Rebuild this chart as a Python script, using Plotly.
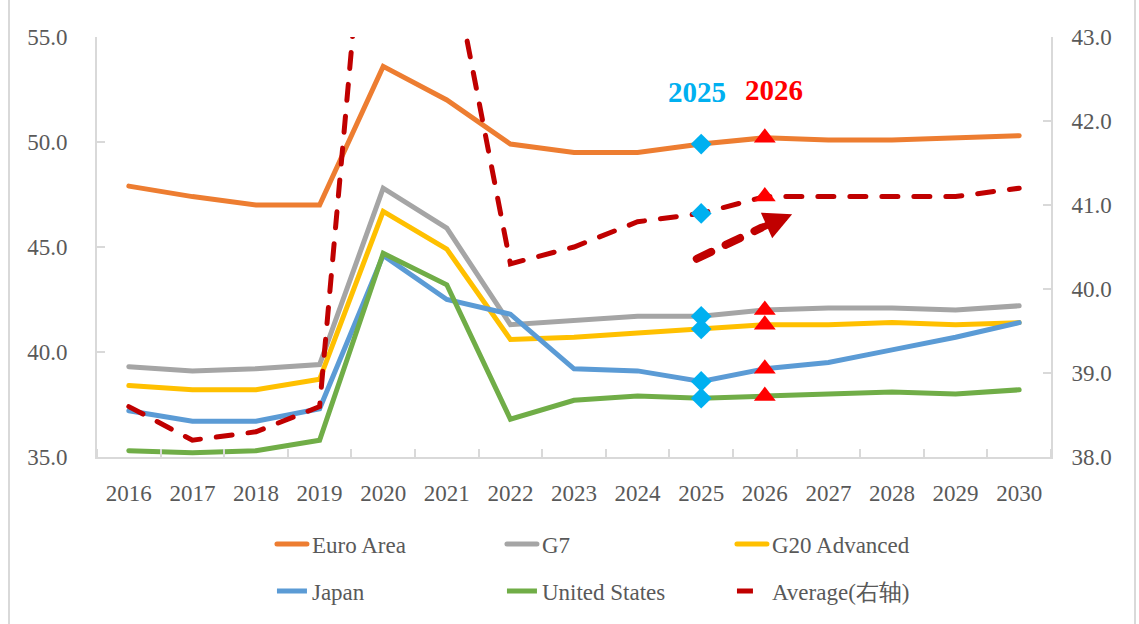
import plotly.graph_objects as go

years = list(range(2016, 2031))
euro_area = [47.9, 47.4, 47.0, 47.0, 53.6, 52.0, 49.9, 49.5, 49.5, 49.9, 50.2, 50.1, 50.1, 50.2, 50.3]
g7 = [39.3, 39.1, 39.2, 39.4, 47.8, 45.9, 41.3, 41.5, 41.7, 41.7, 42.0, 42.1, 42.1, 42.0, 42.2]
g20_adv = [38.4, 38.2, 38.2, 38.7, 46.7, 44.9, 40.6, 40.7, 40.9, 41.1, 41.3, 41.3, 41.4, 41.3, 41.4]
japan = [37.2, 36.7, 36.7, 37.3, 44.6, 42.5, 41.8, 39.2, 39.1, 38.6, 39.2, 39.5, 40.1, 40.7, 41.4]
united_states = [35.3, 35.2, 35.3, 35.8, 44.7, 43.2, 36.8, 37.7, 37.9, 37.8, 37.9, 38.0, 38.1, 38.0, 38.2]
average = [38.6, 38.2, 38.3, 38.6, 47.1, 44.2, 40.3, 40.5, 40.8, 40.9, 41.1, 41.1, 41.1, 41.1, 41.2]

left_ticks = [35, 40, 45, 50, 55]
right_ticks = [38, 39, 40, 41, 42, 43]

# arrow (x in years, y in right-axis units)
arrow_tail = (2024.93, 40.36)
arrow_mid = (2025.95, 40.73)
arrow_tip = (2026.43, 40.89)

FONT = "Liberation Serif"
TXT = "#595959"
GRID = "#D9D9D9"

series = [
    ("Euro Area", euro_area, "#ED7D31", "legend"),
    ("G7", g7, "#A5A5A5", "legend"),
    ("G20 Advanced", g20_adv, "#FFC000", "legend"),
    ("Japan", japan, "#5B9BD5", "legend2"),
    ("United States", united_states, "#70AD47", "legend2"),
]

fig = go.Figure()
for name, vals, col, lg in series:
    fig.add_trace(go.Scatter(x=years, y=vals, name=name, mode="lines",
                             line=dict(color=col, width=5), legend=lg))

i25 = years.index(2025)
i26 = years.index(2026)
prim = [s[1] for s in series]
fig.add_trace(go.Scatter(x=[2025] * len(prim), y=[v[i25] for v in prim], mode="markers",
                         marker=dict(symbol="diamond", size=16, color="#00B0F0"),
                         showlegend=False, hoverinfo="skip", cliponaxis=False))
fig.add_trace(go.Scatter(x=[2026] * len(prim), y=[v[i26] for v in prim], mode="markers",
                         marker=dict(symbol="triangle-up", size=19, color="#FF0000"),
                         showlegend=False, hoverinfo="skip", cliponaxis=False))

fig.add_trace(go.Scatter(x=years, y=average, name="Average(右轴)", mode="lines", yaxis="y2",
                         line=dict(color="#C00000", width=5, dash="16px,16px"), legend="legend2"))
fig.add_trace(go.Scatter(x=[2025], y=[average[i25]], mode="markers", yaxis="y2",
                         marker=dict(symbol="diamond", size=16, color="#00B0F0"),
                         showlegend=False, hoverinfo="skip"))
fig.add_trace(go.Scatter(x=[2026], y=[average[i26]], mode="markers", yaxis="y2",
                         marker=dict(symbol="triangle-up", size=19, color="#FF0000"),
                         showlegend=False, hoverinfo="skip"))

# dashed arrow shaft
fig.add_shape(type="line", xref="x", yref="y2",
              x0=arrow_tail[0], y0=arrow_tail[1], x1=arrow_mid[0], y1=arrow_mid[1],
              line=dict(color="#C00000", width=8, dash="16px,16px"))
# arrow head
fig.add_annotation(x=arrow_tip[0], y=arrow_tip[1], ax=arrow_mid[0], ay=arrow_mid[1],
                   xref="x", yref="y2", axref="x", ayref="y2", text="",
                   showarrow=True, arrowhead=2, arrowsize=0.8, arrowwidth=7, arrowcolor="#C00000")

fig.add_annotation(x=2025, y=52.4, xref="x", yref="y", text="<b>2025</b>", showarrow=False,
                   xshift=-4, font=dict(family=FONT, size=29, color="#00B0F0"))
fig.add_annotation(x=2026, y=52.5, xref="x", yref="y", text="<b>2026</b>", showarrow=False,
                   xshift=9, font=dict(family=FONT, size=29, color="#FF0000"))

# outer frame
fig.add_shape(type="rect", xref="paper", yref="paper",
              x0=(9 - 97) / 954, x1=(1135 - 97) / 954, y0=(457 - 640) / 420, y1=(457 + 10) / 420,
              line=dict(color="#D9D9D9", width=2), layer="below")

axis_common = dict(showgrid=False, zeroline=False, showline=True, linecolor=GRID, linewidth=2,
                   tickcolor=GRID, tickwidth=2,
                   tickfont=dict(family=FONT, size=23, color=TXT))

fig.update_layout(
    width=1139, height=624,
    margin=dict(l=97, r=88, t=37, b=167),
    paper_bgcolor="white", plot_bgcolor="white",
    showlegend=True,
    xaxis=dict(range=[2015.5, 2030.5], tickvals=years, ticks="", ticklabelstandoff=14,
               minor=dict(tickvals=[y - 0.5 for y in years] + [2030.5], ticks="inside",
                          ticklen=8, tickcolor=GRID, tickwidth=2, showgrid=False),
               **axis_common),
    yaxis=dict(range=[35, 55], tickvals=left_ticks, tickformat=".1f", ticks="inside", ticklen=8,
               ticklabelstandoff=23, **axis_common),
    yaxis2=dict(range=[38, 43], tickvals=right_ticks, tickformat=".1f", overlaying="y",
                side="right", ticks="inside", ticklen=8, ticklabelstandoff=14, **axis_common),
    legend=dict(orientation="h", x=0.1834, xanchor="left", y=-0.207, yanchor="middle",
                entrywidth=185, font=dict(family=FONT, size=23, color=TXT),
                bgcolor="rgba(0,0,0,0)"),
    legend2=dict(orientation="h", x=0.1834, xanchor="left", y=-0.319, yanchor="middle",
                 entrywidth=185, font=dict(family=FONT, size=23, color=TXT),
                 bgcolor="rgba(0,0,0,0)"),
)

post = """
document.body.style.margin='0';
document.body.style.overflow='hidden';
var gd = document.getElementById('{plot_id}');
function roundCaps(){
  gd.querySelectorAll('.scatterlayer .js-line, .legend .js-line, .shapelayer path').forEach(function(p){
    p.style.strokeLinecap='round';
  });
}
roundCaps();
gd.on('plotly_afterplot', roundCaps);
"""

fig.write_html("out.html", config={"displayModeBar": False}, post_script=post)
